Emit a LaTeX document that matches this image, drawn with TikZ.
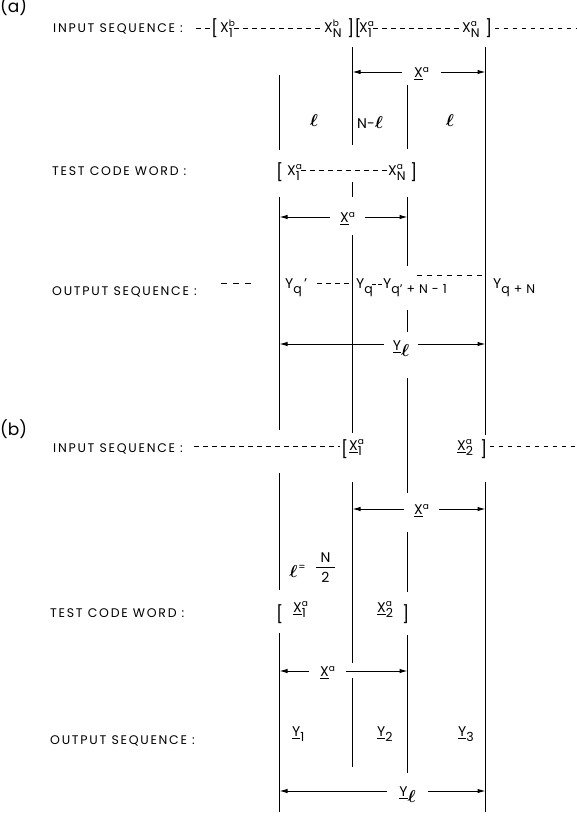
\documentclass[tikz,border=0pt]{standalone}
\usepackage{amsmath}
\usepackage{bm}
\usepackage{fontspec}
\setmainfont{Poppins}
\newfontfamily\labfont[LetterSpace=14]{Poppins}
\usetikzlibrary{arrows.meta}
\newcommand{\supsz}{\fontsize{9}{9}\selectfont}
\newcommand{\subsz}{\fontsize{12.5}{12.5}\selectfont}
\newcommand{\XXb}[3]{#1\raisebox{-5pt}{\rlap{\raisebox{11pt}{\supsz #2}}\subsz #3}}
\newcommand{\XX}[2]{\XXb{X}{#1}{#2}}
\newcommand{\UXX}[2]{\XXb{\underline{X}}{#1}{#2}}
\newcommand{\YY}[1]{Y\raisebox{-5pt}{\subsz #1}}
\newcommand{\UYY}[1]{\underline{Y}\raisebox{-5pt}{\subsz #1}}
\newcommand{\Ell}{{\fontsize{17}{17}\selectfont$\bm{\ell}$}}
\newcommand{\vseg}[3]{\draw[vl] (#1,#2) -- (#1,#3);}
\begin{document}
\begin{tikzpicture}[x=1pt,y=-1pt,
  vl/.style={line width=1.2pt},
  dl/.style={line width=1pt, dash pattern=on 4.5pt off 4.5pt},
  arr/.style={line width=1pt, -{Latex[length=8pt,width=4.5pt]}},
  lab/.style={font=\labfont\fontsize{12.5}{14}\selectfont, anchor=base west, inner sep=0pt},
  tx/.style={font=\fontsize{14}{16}\selectfont, anchor=base west, inner sep=0pt},
  brk/.style={font=\fontsize{17}{19}\selectfont, anchor=base west, inner sep=0pt},
  dimlab/.style={font=\fontsize{14}{16}\selectfont, anchor=base, inner ysep=0pt},
  ell/.style={anchor=base, inner sep=0pt},
  part/.style={font=\fontsize{17}{19}\selectfont, anchor=base west, inner sep=0pt},
]
\useasboundingbox (0,0) rectangle (577,816);
\coordinate (A) at (279.5,0);
\coordinate (B) at (352.5,0);
\coordinate (C) at (407.5,0);
\coordinate (D) at (485.5,0);
% vertical lines
\vseg{279.5}{75}{150}\vseg{279.5}{197}{430}\vseg{279.5}{473}{590}\vseg{279.5}{633}{812}
\vseg{352.5}{47}{145}\vseg{352.5}{182}{197}\vseg{352.5}{235}{433}\vseg{352.5}{482}{663}\vseg{352.5}{678}{767}
\vseg{407.5}{85}{149}\vseg{407.5}{197}{266}\vseg{407.5}{310}{332}\vseg{407.5}{378}{493}\vseg{407.5}{532}{592}\vseg{407.5}{635}{773}
\vseg{485.5}{47}{435}\vseg{485.5}{482}{812}

% ---------------- (a)
\node[part] (pa) at (0,13) {(a)};
\node[lab] (ina) at (53,33) {INPUT SEQUENCE :};
\coordinate (r1) at (0,29);
\node[brk] (ia1) at (211,35) {[};
\node[tx] (ia2) at (220,33) {\XX{b}{1}};
\node[tx] (ia3) at (324,33) {\XX{b}{N}};
\node[brk] (ia4) at (347,35) {][};
\node[tx] (ia5) at (359,33) {\XX{a}{1}};
\node[tx] (ia6) at (462,33) {\XX{a}{N}};
\node[brk] (ia7) at (485,35) {]};
\draw[dl] (196,29) -- ([xshift=-1pt]ia1.west |- r1);
\draw[dl] ([xshift=1pt]ia2.east |- r1) -- ([xshift=-1pt]ia3.west |- r1);
\draw[dl] ([xshift=1pt]ia5.east |- r1) -- ([xshift=-1pt]ia6.west |- r1);
\draw[dl] ([xshift=2pt]ia7.east |- r1) -- (577,29);

\node[ell] (e1) at (314,126) {\Ell};
\node[tx] (e2) at (357,128) {N-\Ell};
\node[ell] (e3) at (450,126) {\Ell};

\node[lab] (tca) at (52,175) {TEST CODE WORD :};
\coordinate (r2) at (0,170);
\node[brk] (ta1) at (276,178) {[};
\node[tx] (ta2) at (287,175) {\XX{a}{1}};
\node[tx] (ta3) at (388,175) {\XX{a}{N}};
\node[brk] (ta4) at (410,178) {]};
\draw[dl] ([xshift=1pt]ta2.east |- r2) -- ([xshift=-1pt]ta3.west |- r2);

\node[lab] (osa) at (52,295) {OUTPUT SEQUENCE :};
\draw[line width=1pt, dash pattern=on 6pt off 6pt] (221,283) -- (252,283);
\node[tx] (oa1) at (285,288) {\YY{q}\,'};
\draw[dl] (317,283) -- (351,283);
\node[tx] (oa2) at (356,288) {\YY{q}};
\draw[line width=1pt, dash pattern=on 4pt off 2pt] (372,284) -- (382,284);
\node[tx] (oa3) at (383,288) {\YY{q'\hspace{4pt}+\hspace{4pt}N\hspace{4pt}-\hspace{4pt}1}};
\draw[line width=1pt, dash pattern=on 5pt off 5pt] (417,275) -- (483,275);
\node[tx] (oa4) at (493,288) {\YY{q\hspace{4pt}+\hspace{4pt}N}};

% dimension arrows (a)
\node[dimlab, inner xsep=12pt] (la1) at (421.5,77.5) {\underline{X}\raisebox{5.5pt}{\supsz a}};
\coordinate (ya1) at (0,72);
\draw[arr] (la1.west |- ya1) -- (B |- ya1);
\draw[arr] (la1.east |- ya1) -- (D |- ya1);

\node[dimlab, inner xsep=10pt] (la2) at (347.5,222.5) {\underline{X}\raisebox{5.5pt}{\supsz a}};
\coordinate (ya2) at (0,217);
\draw[arr] (la2.west |- ya2) -- (A |- ya2);
\draw[arr] (la2.east |- ya2) -- (C |- ya2);

\node[dimlab, inner xsep=9pt] (la3) at (401,350) {\underline{Y}\raisebox{-6pt}{\Ell}};
\coordinate (ya3) at (0,344);
\draw[arr] (la3.west |- ya3) -- (A |- ya3);
\draw[arr] (la3.east |- ya3) -- (D |- ya3);

% ---------------- (b)
\node[part] (pb) at (0,435) {(b)};
\node[lab] (inb) at (53,452) {INPUT SEQUENCE :};
\coordinate (r3) at (0,446);
\node[brk] (ib1) at (341,455) {[};
\node[tx] (ib2) at (349,450) {\UXX{a}{1}};
\node[tx] (ib3) at (457,450) {\UXX{a}{2}};
\node[brk] (ib4) at (480,455) {]};
\draw[dl] (194,446) -- ([xshift=-1pt]ib1.west |- r3);
\draw[dl] ([xshift=2pt]ib4.east |- r3) -- (577,446);

\node[dimlab, inner xsep=10pt] (lb1) at (421.5,514.5) {\underline{X}\raisebox{5.5pt}{\supsz a}};
\coordinate (yb1) at (0,509);
\draw[arr] (lb1.west |- yb1) -- (B |- yb1);
\draw[arr] (lb1.east |- yb1) -- (D |- yb1);

\node[ell] (eb1) at (293.5,577) {\Ell};
\node[inner sep=0pt, font=\fontsize{10}{10}\selectfont] (eb2) at (302,568) {=};
\node[inner sep=0pt, font=\fontsize{14}{16}\selectfont] (fn) at (325.5,558) {N};
\node[inner sep=0pt, font=\fontsize{14}{16}\selectfont] (fd) at (325.5,577) {2};
\draw[line width=1.3pt] ([xshift=-4pt]fn.south west |- 0,567.5) -- ([xshift=4pt]fn.south east |- 0,567.5);

\node[lab] (tcb) at (50,617) {TEST CODE WORD :};
\node[brk] (tb1) at (276,620) {[};
\node[tx] (tb2) at (293,612) {\UXX{a}{1}};
\node[tx] (tb3) at (377,612) {\UXX{a}{2}};
\node[brk] (tb4) at (402,620) {]};

\node[dimlab, inner xsep=11pt] (lb2) at (327.5,676.5) {\underline{X}\raisebox{5.5pt}{\supsz a}};
\coordinate (yb2) at (0,671);
\draw[arr] (lb2.west |- yb2) -- (A |- yb2);
\draw[arr] (lb2.east |- yb2) -- (C |- yb2);

\node[lab] (osb) at (50,744) {OUTPUT SEQUENCE :};
\node[tx] (ob1) at (292,736) {\UYY{1}};
\node[tx] (ob2) at (377,736) {\UYY{2}};
\node[tx] (ob3) at (458,736) {\UYY{3}};

\node[dimlab, inner xsep=12pt] (lb3) at (407.5,796) {\underline{Y}\raisebox{-6pt}{\Ell}};
\coordinate (yb3) at (0,791);
\draw[arr] (lb3.west |- yb3) -- (A |- yb3);
\draw[arr] (lb3.east |- yb3) -- (D |- yb3);
\end{tikzpicture}
\end{document}
